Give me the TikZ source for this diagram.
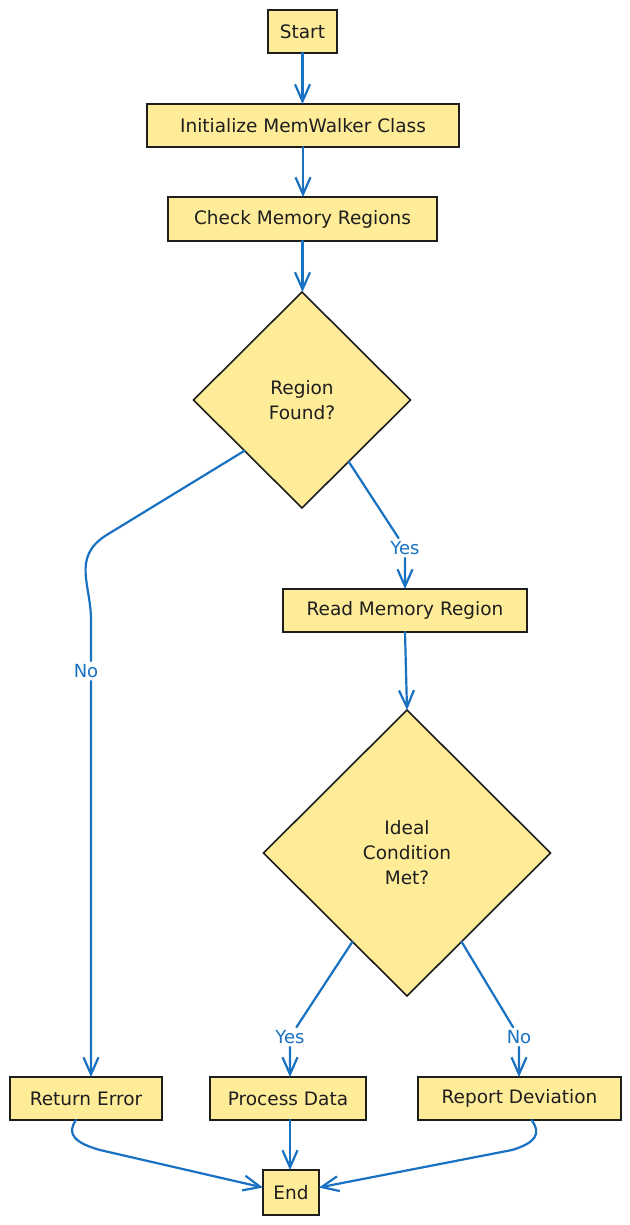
\documentclass[tikz,border=0pt]{standalone}
\usepackage{fontspec}
\setmainfont{DejaVu Sans}
\usetikzlibrary{arrows.meta,shapes.geometric,calc}
\definecolor{fillY}{HTML}{FFEC99}
\definecolor{strokeK}{HTML}{1E1E1E}
\definecolor{arrowB}{HTML}{1971C2}
\begin{document}
\begin{tikzpicture}[x=1pt,y=-1pt,
  box/.style={draw=strokeK, fill=fillY, line width=1.7pt, inner sep=0pt, outer sep=0pt, text=strokeK, font=\fontsize{18.5}{22}\selectfont},
  dec/.style={draw=strokeK, fill=fillY, line width=1.6pt, shape=diamond, inner sep=0pt, outer sep=0pt, align=center, text=strokeK, font=\fontsize{18.5}{25}\selectfont},
  flow/.style={draw=arrowB, line width=2.2pt, -{Straight Barb[length=17pt,width=15pt,line width=2.2pt]}, line cap=round, line join=round},
  lbl/.style={text=arrowB, inner sep=3pt, font=\fontsize{18}{20}\selectfont}
]
\useasboundingbox (0,0) rectangle (629,1225);
\fill[white] (0,0) rectangle (629,1225);

% process boxes
\node[box, minimum width=69pt,  minimum height=43pt] (start) at (302.5,31.5)  {Start};
\node[box, minimum width=312pt, minimum height=43pt] (init)  at (303,125.5)   {Initialize MemWalker Class};
\node[box, minimum width=269pt, minimum height=44pt] (check) at (302.5,219)   {Check Memory Regions};
\node[dec, minimum width=217pt, minimum height=216pt] (d1)   at (302,400)     {Region\\Found?};
\node[box, minimum width=244pt, minimum height=43pt] (read)  at (405,610.5)   {Read Memory Region};
\node[dec, minimum width=287pt, minimum height=286pt] (d2)   at (407,853)     {Ideal\\Condition\\Met?};
\node[box, minimum width=152pt, minimum height=43pt] (ret)   at (86,1098.5)   {Return Error};
\node[box, minimum width=156pt, minimum height=43pt] (proc)  at (288,1098.5)  {Process Data};
\node[box, minimum width=203pt, minimum height=43pt] (rep)   at (519.5,1098.5) {Report Deviation};
\node[box, minimum width=56pt,  minimum height=45pt] (end)   at (291,1192.5)  {End};

% edge labels
\node[lbl] (lno1)  at (86,671)   {No};
\node[lbl] (lyes1) at (405,548)  {Yes};
\node[lbl] (lyes2) at (290,1037) {Yes};
\node[lbl] (lno2)  at (519,1037) {No};

% helper coordinates
\coordinate (vx) at (91,0);
\coordinate (nA) at (105,536);
\coordinate (nB) at (91,620);
\coordinate (rA) at (100,1150);
\coordinate (pA) at (512,1150);

% connectors
\draw[flow] (start.south) -- (start.south |- init.north);
\draw[flow] (init.south) -- (init.south |- check.north);
\draw[flow] (check.south) -- (check.south |- d1.north);

\draw[flow] ($(d1.west)!0.47!(d1.south)$) -- (nA)
  .. controls (72,558) and (91,585) .. (nB) -- (lno1.north -| vx)
  (lno1.south -| vx) -- (ret.north -| vx);

\draw[flow] ($(d1.east)!0.57!(d1.south)$) -- (lyes1)
  (lyes1.south) -- (lyes1.south |- read.north);

\draw[flow] (read.south) -- (d2.north);

\draw[flow] ($(d2.west)!0.62!(d2.south)$) -- (lyes2)
  (lyes2.south) -- (lyes2.south |- proc.north);

\draw[flow] ($(d2.east)!0.62!(d2.south)$) -- (lno2)
  (lno2.south) -- (lno2.south |- rep.north);

\draw[flow] ([xshift=-10pt]ret.south) .. controls (66,1134) and (75,1143) .. (rA)
  -- ($(end.west)+(0,-5)$);
\draw[flow] ([xshift=2pt]proc.south) -- ([xshift=-1pt]end.north);
\draw[flow] ([xshift=12pt]rep.south) .. controls (542,1134) and (535,1143) .. (pA)
  -- ($(end.east)+(0,-5)$);
\end{tikzpicture}
\end{document}
